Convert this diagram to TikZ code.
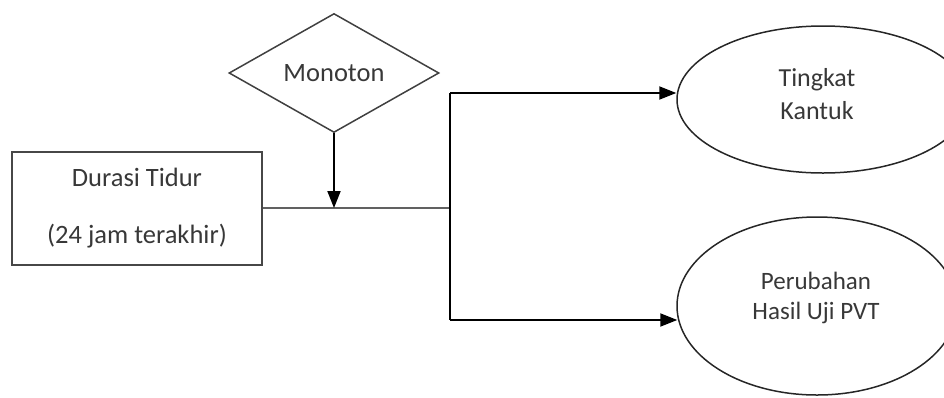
\documentclass[tikz,border=0pt]{standalone}
\usepackage{fontspec}
\setmainfont{Carlito}
\usetikzlibrary{arrows.meta,shapes.geometric}

\begin{document}
\begin{tikzpicture}[x=1pt,y=-1pt,
  txt/.style={text=black!78, font=\fontsize{26.5}{31}\selectfont, align=center, inner sep=0pt},
  boxnode/.style={txt, draw=black!72, line width=2pt, rectangle,
    minimum width=250pt, minimum height=113pt},
  decision/.style={txt, draw=black!75, line width=1.5pt, diamond, aspect=1.76,
    minimum width=210pt, minimum height=119pt},
  outcome/.style={draw=black!85, line width=1.5pt, ellipse, inner sep=0pt},
  feed/.style={draw=black!62, line width=2.2pt},
  link/.style={draw=black, line width=2pt},
  arr/.style={link, -{Triangle[length=17pt,width=13pt]}}
]
\useasboundingbox (0,0) rectangle (944,397);
\clip (0,0) rectangle (944,397);

% nodes
\node[boxnode] (dur) at (137,208) {Durasi Tidur\\[26pt](24 jam terakhir)};
\node[decision] (mon) at (334,73) {Monoton};
\node[outcome, minimum width=292pt, minimum height=147pt] (tk) at (823,99.5) {};
\node[txt, font=\fontsize{26}{33}\selectfont] (tktext) at (817,94) {Tingkat\\Kantuk};
\node[outcome, minimum width=280pt, minimum height=178pt] (pvt) at (817,306) {};
\node[txt, font=\fontsize{25}{30}\selectfont] (pvttext) at (816,298) {Perubahan\\Hasil Uji PVT};

% branch points
\coordinate (jn) at (450,208);
\coordinate (up) at (450,93);
\coordinate (dn) at (450,320);

% connectors
\draw[feed] (dur.east |- jn) -- (jn);
\draw[link] (up) -- (dn);
\draw[arr] (up) -- (tk.west |- up);
\draw[arr] (dn) -- ([xshift=1pt]pvt.west |- dn);
\draw[arr] (mon.south) -- (mon.south |- jn);
\end{tikzpicture}
\end{document}
